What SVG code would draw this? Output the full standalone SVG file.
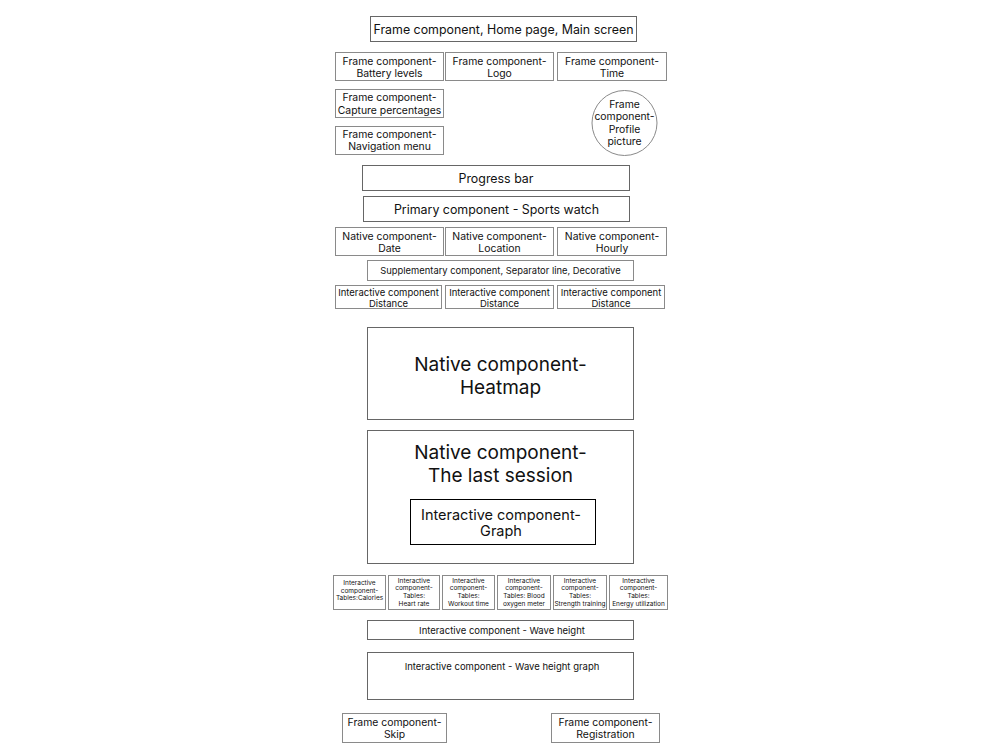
<svg xmlns="http://www.w3.org/2000/svg" width="1000" height="750" viewBox="0 0 1000 750">
<style>
text{font-family:Inter,"Noto Sans","Liberation Sans",sans-serif;fill:#111;text-anchor:middle;dominant-baseline:central}
.b{fill:#fff;stroke:#8a8a8a;stroke-width:1}
.d{fill:#fff;stroke:#666;stroke-width:1}
.k{fill:#fff;stroke:#000;stroke-width:1}
.f11{font-size:10.4px}.f13{font-size:12.4px}.f10{font-size:9.4px}.f95{font-size:9.5px}.f7{font-size:6.5px}.f19{font-size:19px}.f14{font-size:14.5px}.fw{font-size:9.5px}
</style>
<rect width="1000" height="750" fill="#fff"/>
<g id="main-screen"><rect class="d" x="370.5" y="16.5" width="266" height="25"/><text class="f13" x="503.5" y="29">Frame component, Home page, Main screen</text></g>
<g id="battery"><rect class="b" x="335.5" y="52.5" width="108" height="28"/><text class="f11" x="389.5" y="61">Frame component-</text><text class="f11" x="389.5" y="73">Battery levels</text></g>
<g id="logo"><rect class="b" x="445.5" y="52.5" width="108" height="28"/><text class="f11" x="499.5" y="61">Frame component-</text><text class="f11" x="499.5" y="73">Logo</text></g>
<g id="time"><rect class="b" x="557.5" y="52.5" width="109" height="28"/><text class="f11" x="612" y="61">Frame component-</text><text class="f11" x="612" y="73">Time</text></g>
<g id="capture"><rect class="b" x="335.5" y="89.5" width="108" height="28"/><text class="f11" x="389.5" y="97">Frame component-</text><text class="f11" x="389.5" y="110">Capture percentages</text></g>
<g id="navigation"><rect class="b" x="335.5" y="126.5" width="108" height="28"/><text class="f11" x="389.5" y="134">Frame component-</text><text class="f11" x="389.5" y="146">Navigation menu</text></g>
<g id="profile"><circle class="b" cx="624.5" cy="123" r="32.5"/><text class="f11" x="624.5" y="104">Frame</text><text class="f11" x="624.5" y="116">component-</text><text class="f11" x="624.5" y="129">Profile</text><text class="f11" x="624.5" y="141">picture</text></g>
<g id="progress"><rect class="d" x="362.5" y="165.5" width="267" height="25"/><text class="f13" x="496" y="178">Progress bar</text></g>
<g id="primary"><rect class="d" x="363.5" y="196.5" width="266" height="25"/><text class="f13" x="496.5" y="209">Primary component - Sports watch</text></g>
<g id="date"><rect class="b" x="335.5" y="227.5" width="108" height="28"/><text class="f11" x="389.5" y="236">Native component-</text><text class="f11" x="389.5" y="248">Date</text></g>
<g id="location"><rect class="b" x="445.5" y="227.5" width="108" height="28"/><text class="f11" x="499.5" y="236">Native component-</text><text class="f11" x="499.5" y="248">Location</text></g>
<g id="hourly"><rect class="b" x="557.5" y="227.5" width="109" height="28"/><text class="f11" x="612" y="236">Native component-</text><text class="f11" x="612" y="248">Hourly</text></g>
<g id="supplementary"><rect class="b" x="367.5" y="260.5" width="266" height="20"/><text class="f10" x="500.5" y="270.5">Supplementary component, Separator line, Decorative</text></g>
<g id="distance1"><rect class="b" x="335.5" y="285.5" width="106" height="23"/><text class="f95" x="388.5" y="292">Interactive component</text><text class="f95" x="388.5" y="303">Distance</text></g>
<g id="distance2"><rect class="b" x="445.5" y="285.5" width="108" height="23"/><text class="f95" x="499.5" y="292">Interactive component</text><text class="f95" x="499.5" y="303">Distance</text></g>
<g id="distance3"><rect class="b" x="557.5" y="285.5" width="107" height="23"/><text class="f95" x="611" y="292">Interactive component</text><text class="f95" x="611" y="303">Distance</text></g>
<g id="heatmap"><rect class="d" x="367.5" y="327.5" width="266" height="92"/><text class="f19" x="500.5" y="364">Native component-</text><text class="f19" x="500.5" y="387">Heatmap</text></g>
<g id="last-session"><rect class="d" x="367.5" y="430.5" width="266" height="133"/><text class="f19" x="500.5" y="452">Native component-</text><text class="f19" x="500.5" y="475">The last session</text></g>
<g id="graph"><rect class="k" x="410.5" y="499.5" width="185" height="45"/><text class="f14" x="501" y="514">Interactive component-</text><text class="f14" x="501" y="530">Graph</text></g>
<g id="calories"><rect class="b" x="333.5" y="575.5" width="52" height="34"/><text class="f7" x="359.5" y="583">Interactive</text><text class="f7" x="359.5" y="590.5">component-</text><text class="f7" x="359.5" y="598">Tables:Calories</text></g>
<g id="heart-rate"><rect class="b" x="388.5" y="575.5" width="51" height="34"/><text class="f7" x="414" y="580.5">Interactive</text><text class="f7" x="414" y="588">component-</text><text class="f7" x="414" y="596">Tables:</text><text class="f7" x="414" y="603.5">Heart rate</text></g>
<g id="workout"><rect class="b" x="442.5" y="575.5" width="52" height="34"/><text class="f7" x="468.5" y="580.5">Interactive</text><text class="f7" x="468.5" y="588">component-</text><text class="f7" x="468.5" y="596">Tables:</text><text class="f7" x="468.5" y="603.5">Workout time</text></g>
<g id="blood-oxygen"><rect class="b" x="497.5" y="575.5" width="53" height="34"/><text class="f7" x="524" y="580.5">Interactive</text><text class="f7" x="524" y="588">component-</text><text class="f7" x="524" y="596">Tables: Blood</text><text class="f7" x="524" y="603.5">oxygen meter</text></g>
<g id="strength"><rect class="b" x="553.5" y="575.5" width="53" height="34"/><text class="f7" x="580" y="580.5">Interactive</text><text class="f7" x="580" y="588">component-</text><text class="f7" x="580" y="596">Tables:</text><text class="f7" x="580" y="603.5">Strength training</text></g>
<g id="energy"><rect class="b" x="609.5" y="575.5" width="58" height="34"/><text class="f7" x="638.5" y="580.5">Interactive</text><text class="f7" x="638.5" y="588">component-</text><text class="f7" x="638.5" y="596">Tables:</text><text class="f7" x="638.5" y="603.5">Energy utilization</text></g>
<g id="wave-height"><rect class="d" x="367.5" y="620.5" width="266" height="19"/><text class="fw" x="502" y="630">Interactive component - Wave height</text></g>
<g id="wave-height-graph"><rect class="d" x="367.5" y="652.5" width="266" height="47"/><text class="fw" x="502" y="666.5">Interactive component - Wave height graph</text></g>
<g id="skip"><rect class="b" x="342.5" y="713.5" width="104" height="29"/><text class="f11" x="394.5" y="722">Frame component-</text><text class="f11" x="394.5" y="734">Skip</text></g>
<g id="registration"><rect class="b" x="551.5" y="713.5" width="108" height="29"/><text class="f11" x="605.5" y="722">Frame component-</text><text class="f11" x="605.5" y="734">Registration</text></g>
<g id="connectors"></g>
</svg>
